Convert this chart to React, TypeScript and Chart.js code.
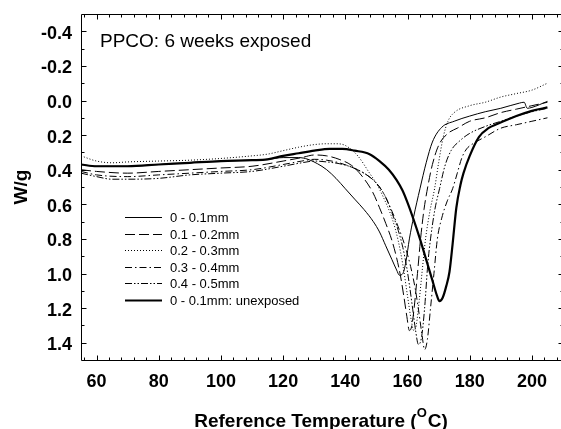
import React, { useEffect, useRef } from "react";
import { Chart, registerables } from "chart.js";
Chart.register(...registerables);

const chartTitle = "PPCO: 6 weeks exposed";
const yAxisTitle = "W/g";
const xAxisTitleMain = "Reference Temperature (";
const xAxisTitleSup = "O";
const xAxisTitleEnd = "C)";

const seriesLabels = [
  "0 - 0.1mm",
  "0.1 - 0.2mm",
  "0.2 - 0.3mm",
  "0.3 - 0.4mm",
  "0.4 - 0.5mm",
  "0 - 0.1mm: unexposed",
];

// 0 - 0.1mm (thin solid)
const temp1 = [55, 60, 70, 80, 90, 100, 110, 115, 120, 125, 128, 131, 134, 137, 140, 143, 146, 149, 151, 153, 155, 156.5, 157.4, 158.5, 159.5, 160.6, 162, 164, 166, 168, 171, 175, 180, 185, 190, 196, 197.5, 198.5, 200, 205];
const w1 = [0.37, 0.38, 0.38, 0.37, 0.36, 0.35, 0.345, 0.34, 0.33, 0.33, 0.34, 0.365, 0.40, 0.45, 0.51, 0.57, 0.63, 0.70, 0.76, 0.84, 0.92, 0.98, 1.01, 1.0, 0.93, 0.80, 0.67, 0.51, 0.36, 0.24, 0.155, 0.12, 0.09, 0.065, 0.045, 0.015, 0.01, 0.045, 0.04, 0.005];

// 0.1 - 0.2mm (dashed)
const temp2 = [55, 60, 70, 80, 90, 100, 110, 120, 126, 130, 134, 138, 142, 145.5, 148.8, 151, 153, 155, 156.5, 157.8, 158.8, 159.8, 160.6, 161.4, 162.3, 163.2, 164.2, 165.3, 166.5, 168, 170, 173, 176, 180, 185, 190, 195, 200, 205];
const w2 = [0.40, 0.41, 0.42, 0.41, 0.40, 0.39, 0.38, 0.35, 0.33, 0.315, 0.32, 0.34, 0.375, 0.44, 0.53, 0.62, 0.71, 0.81, 0.91, 1.02, 1.13, 1.25, 1.33, 1.30, 1.17, 1.00, 0.80, 0.63, 0.50, 0.37, 0.26, 0.19, 0.16, 0.12, 0.10, 0.07, 0.05, 0.03, 0.01];

// 0.2 - 0.3mm (dotted)
const temp3 = [55, 60, 65, 70, 80, 90, 100, 110, 115, 120, 125, 130, 134, 137, 140, 144, 147.8, 150, 152, 155.2, 157, 158.5, 160, 161.2, 162, 162.8, 163.8, 164.8, 165.8, 167.2, 168.7, 170, 171.5, 173, 175, 180, 185, 190, 195, 200, 205];
const w3 = [0.32, 0.35, 0.36, 0.355, 0.35, 0.345, 0.335, 0.32, 0.31, 0.29, 0.27, 0.255, 0.25, 0.25, 0.26, 0.32, 0.42, 0.48, 0.55, 0.69, 0.81, 0.95, 1.13, 1.27, 1.33, 1.30, 1.15, 0.97, 0.80, 0.64, 0.51, 0.36, 0.21, 0.12, 0.07, 0.03, 0.01, -0.02, -0.04, -0.06, -0.10];

// 0.3 - 0.4mm (dash-dot)
const temp4 = [55, 60, 70, 80, 90, 100, 110, 120, 126, 130, 134, 138, 142, 146, 149, 151, 153, 155, 157, 159, 161, 162.5, 163.7, 164.7, 165.5, 166.4, 167.4, 168.5, 169.6, 171, 172.8, 174.5, 176, 177.5, 179, 181, 185, 190, 195, 200, 205];
const w4 = [0.41, 0.43, 0.44, 0.43, 0.42, 0.41, 0.40, 0.37, 0.35, 0.34, 0.345, 0.36, 0.385, 0.42, 0.46, 0.50, 0.56, 0.64, 0.73, 0.83, 0.96, 1.09, 1.23, 1.36, 1.44, 1.38, 1.20, 1.00, 0.80, 0.68, 0.58, 0.51, 0.42, 0.33, 0.28, 0.25, 0.21, 0.16, 0.14, 0.12, 0.10];

// 0.4 - 0.5mm (dash-dot-dot)
const temp5 = [55, 60, 65, 70, 80, 90, 100, 110, 120, 126, 130, 134, 138, 142, 146, 149, 151, 153, 155, 157, 158.5, 159.8, 160.8, 161.7, 162.6, 163.5, 164.5, 165.5, 166.5, 167.4, 168.8, 170.3, 172, 174, 177, 180, 185, 190, 195, 200, 205];
const w5 = [0.42, 0.44, 0.455, 0.455, 0.45, 0.43, 0.42, 0.41, 0.38, 0.36, 0.35, 0.355, 0.365, 0.385, 0.42, 0.46, 0.50, 0.56, 0.65, 0.75, 0.85, 0.97, 1.09, 1.21, 1.33, 1.41, 1.37, 1.20, 0.95, 0.80, 0.63, 0.51, 0.38, 0.29, 0.23, 0.19, 0.15, 0.12, 0.09, 0.065, 0.045];

// 0 - 0.1mm: unexposed (thick solid)
const temp6 = [55, 60, 70, 80, 90, 100, 110, 115, 120, 125, 130, 135, 139, 143, 147.8, 151, 154, 156.5, 158.4, 160, 161.6, 164, 166, 168, 169.5, 170.3, 171.3, 172.5, 173.5, 174.5, 175.7, 177, 178, 180, 183, 186, 189, 195, 200, 205];
const w6 = [0.37, 0.38, 0.38, 0.37, 0.36, 0.35, 0.345, 0.34, 0.32, 0.305, 0.29, 0.28, 0.28, 0.29, 0.31, 0.35, 0.40, 0.46, 0.52, 0.59, 0.67, 0.80, 0.92, 1.04, 1.13, 1.16, 1.14, 1.07, 0.99, 0.83, 0.62, 0.49, 0.42, 0.32, 0.21, 0.16, 0.135, 0.09, 0.06, 0.04];

const xTicks = [60, 80, 100, 120, 140, 160, 180, 200];
const yTicks = [-0.4, -0.2, 0.0, 0.2, 0.4, 0.6, 0.8, 1.0, 1.2, 1.4];
const xMinorStep = 4;
const yMinorStep = 0.1;

const temps = [temp1, temp2, temp3, temp4, temp5, temp6];
const values = [w1, w2, w3, w4, w5, w6];
const dashes: number[][] = [[], [10, 4], [1, 2], [7, 3, 1.5, 3], [7, 2, 1.5, 2, 1.5, 2], []];
const widths = [1, 1, 1, 1, 1, 2.2];

const FONT = "'Liberation Sans', Arial, Helvetica, sans-serif";

const decorPlugin = {
  id: "decor",
  afterDraw(chart: any) {
    const { ctx, chartArea: a, scales } = chart;
    const x = scales.x;
    const y = scales.y;
    const L = Math.floor(a.left) + 0.5;
    const R = Math.floor(a.right) + 0.5;
    const T = Math.floor(a.top) + 0.5;
    const B = Math.floor(a.bottom) + 0.5;
    ctx.save();
    ctx.strokeStyle = "#000";
    ctx.fillStyle = "#000";
    ctx.lineWidth = 1;
    ctx.setLineDash([]);
    ctx.beginPath();
    ctx.rect(L, T, R - L, B - T);
    ctx.stroke();

    // x ticks (major + minor), bottom and top, inward
    ctx.beginPath();
    for (let v = Math.ceil(x.min / xMinorStep) * xMinorStep; v <= x.max; v += xMinorStep) {
      const px = Math.round(x.getPixelForValue(v)) + 0.5;
      const major = xTicks.includes(v);
      const len = major ? 5 : 3;
      ctx.moveTo(px, B);
      ctx.lineTo(px, B - len);
      ctx.moveTo(px, T);
      ctx.lineTo(px, T + len);
    }
    // y ticks
    for (let i = Math.ceil(y.min / yMinorStep + 1e-6); i * yMinorStep <= y.max - 1e-6; i++) {
      const v = i * yMinorStep;
      const py = Math.round(y.getPixelForValue(v)) + 0.5;
      const major = yTicks.some((t) => Math.abs(t - v) < 1e-6);
      const len = major ? 5 : 3;
      ctx.moveTo(L, py);
      ctx.lineTo(L + len, py);
      ctx.moveTo(R, py);
      ctx.lineTo(R - len, py);
    }
    ctx.stroke();

    // tick labels
    ctx.font = `bold 18px ${FONT}`;
    ctx.textAlign = "center";
    ctx.textBaseline = "alphabetic";
    for (const v of xTicks) {
      ctx.fillText(String(v), x.getPixelForValue(v), 387);
    }
    ctx.textAlign = "right";
    for (const v of yTicks) {
      ctx.fillText(v.toFixed(1), 72, y.getPixelForValue(v) + 7.5);
    }

    // chart title
    ctx.font = `19px ${FONT}`;
    ctx.textAlign = "left";
    ctx.fillText(chartTitle, 100, 47);

    // axis titles
    ctx.font = `bold 19px ${FONT}`;
    ctx.textAlign = "left";
    const mainW = ctx.measureText(xAxisTitleMain).width;
    ctx.font = `bold 13px ${FONT}`;
    const supW = ctx.measureText(xAxisTitleSup).width;
    ctx.font = `bold 19px ${FONT}`;
    const endW = ctx.measureText(xAxisTitleEnd).width;
    const total = mainW + supW + endW + 1;
    let sx = (a.left + 561) / 2 - total / 2;
    ctx.fillText(xAxisTitleMain, sx, 427);
    sx += mainW;
    ctx.font = `bold 13px ${FONT}`;
    ctx.fillText(xAxisTitleSup, sx, 417);
    sx += supW + 1;
    ctx.font = `bold 19px ${FONT}`;
    ctx.fillText(xAxisTitleEnd, sx, 427);

    ctx.save();
    ctx.translate(27, (a.top + a.bottom) / 2);
    ctx.rotate(-Math.PI / 2);
    ctx.textAlign = "center";
    ctx.fillText(yAxisTitle, 0, 0);
    ctx.restore();

    // legend
    ctx.font = `13px ${FONT}`;
    ctx.textAlign = "left";
    chart.data.datasets.forEach((ds: any, i: number) => {
      const cy = Math.round(217 + i * 16.5) + 0.5;
      ctx.beginPath();
      ctx.lineWidth = ds.borderWidth;
      ctx.setLineDash(ds.borderDash || []);
      ctx.moveTo(125, cy);
      ctx.lineTo(162, cy);
      ctx.stroke();
      ctx.setLineDash([]);
      ctx.fillText(ds.label, 170, cy + 4.5);
    });
    ctx.restore();
  },
};

export default function App() {
  const ref = useRef<HTMLCanvasElement | null>(null);
  useEffect(() => {
    if (!ref.current) return;
    const datasets = seriesLabels.map((label, i) => ({
      label,
      data: temps[i].map((t, j) => ({ x: t, y: values[i][j] })),
      borderColor: "#000",
      backgroundColor: "#000",
      borderWidth: widths[i],
      borderDash: dashes[i],
      pointRadius: 0,
      fill: false,
      cubicInterpolationMode: "monotone" as const,
    }));
    const chart = new Chart(ref.current, {
      type: "line",
      data: { datasets },
      plugins: [decorPlugin],
      options: {
        animation: false,
        responsive: false,
        devicePixelRatio: 1,
        layout: { padding: { top: 14, right: 2, left: 0, bottom: 0 } },
        plugins: { legend: { display: false }, tooltip: { enabled: false } },
        scales: {
          x: {
            type: "linear",
            min: 55,
            max: 210,
            grid: { display: false },
            border: { display: false },
            ticks: { display: false },
            afterBuildTicks: (s: any) => {
              s.ticks = xTicks.map((v) => ({ value: v }));
            },
            afterFit: (s: any) => {
              s.height = 69;
            },
          },
          y: {
            type: "linear",
            reverse: true,
            min: -0.5,
            max: 1.5,
            grid: { display: false },
            border: { display: false },
            ticks: { display: false },
            afterBuildTicks: (s: any) => {
              s.ticks = yTicks.map((v) => ({ value: v }));
            },
            afterFit: (s: any) => {
              s.width = 81;
            },
          },
        },
      },
    });
    return () => chart.destroy();
  }, []);
  return (
    <div style={{ position: "fixed", left: 0, top: 0, width: 561, height: 429, overflow: "hidden", background: "#fff" }}>
      <canvas ref={ref} width={565} height={429} style={{ display: "block", width: 565, height: 429 }} />
    </div>
  );
}
